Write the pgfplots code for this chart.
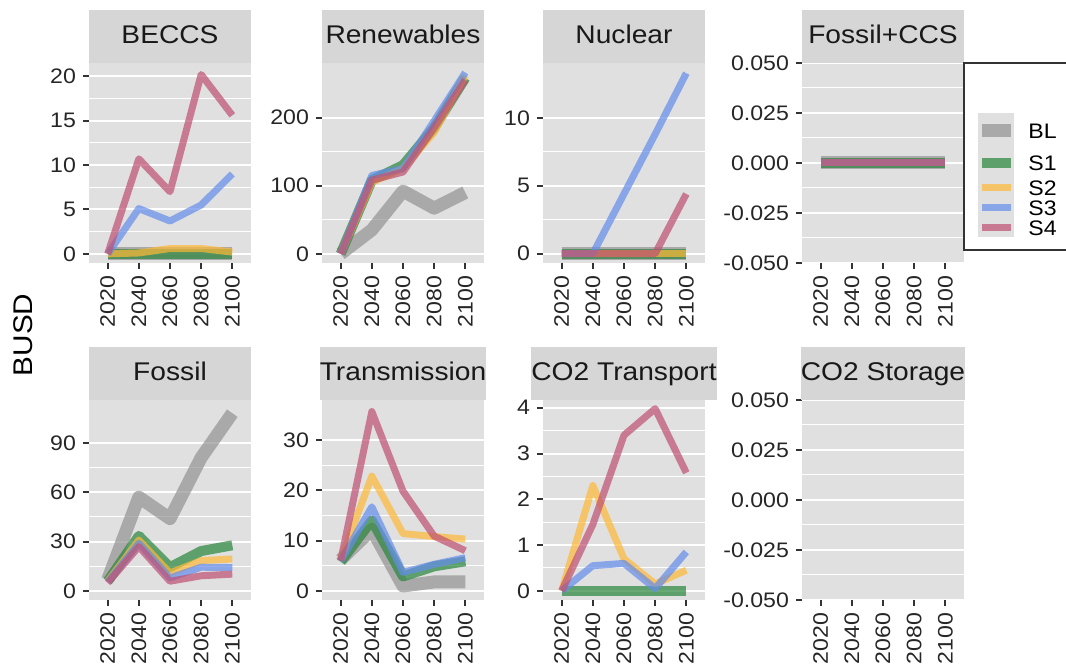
\documentclass[border=0pt]{standalone}
\usepackage{fontspec}
\setmainfont{Liberation Sans}[FakeStretch=1.1]
\usepackage{pgfplots}
\pgfplotsset{compat=1.18}
\definecolor{panelbg}{HTML}{E0E0E0}
\definecolor{stripbg}{HTML}{D6D6D6}
\definecolor{blcol}{RGB}{147,147,147}
\definecolor{s1col}{RGB}{40,133,60}
\definecolor{s2col}{RGB}{255,185,55}
\definecolor{s3col}{RGB}{100,140,235}
\definecolor{s4col}{RGB}{190,80,115}
\pgfplotsset{
  panel/.style={
    scale only axis, width=81pt, height=100pt, anchor=south west,
    xmin=-0.6, xmax=4.6,
    xtick={0,1,2,3,4}, xticklabels={2020,2040,2060,2080,2100},
    axis x line*=bottom, axis y line*=left,
    axis line style={draw=none,-},
    axis background/.style={fill=panelbg},
    tick align=outside,
    major tick length=3pt, minor tick length=0pt,
    every tick/.style={draw=black!80, line width=1pt},
    ymajorgrids, yminorgrids, minor y tick num=1,
    major grid style={white, line width=1pt},
    minor grid style={white, line width=0.5pt},
    scaled y ticks=false,
    /pgf/number format/assume math mode=true,
    ticklabel style={font=\fontsize{10.5}{12}\selectfont, text=black!85},
    xticklabel style={rotate=90, anchor=east},
    every axis title/.style={at={(0.5,1)}, anchor=south, fill=stripbg,
      minimum width=81pt, minimum height=26.5pt, inner sep=0pt, outer sep=0pt,
      text height=0.716em, text depth=0pt,
      font=\fontsize{12.8}{14}\selectfont, text=black!90},
  },
  BLs/.style={draw=blcol, line width=6.5pt, opacity=0.7, line join=round},
  S1s/.style={draw=s1col, line width=5pt, opacity=0.7, line join=round},
  S2s/.style={draw=s2col, line width=3.5pt, opacity=0.7, line join=round},
  S3s/.style={draw=s3col, line width=3.5pt, opacity=0.7, line join=round},
  S4s/.style={draw=s4col, line width=3.5pt, opacity=0.7, line join=round},
}
\begin{document}
\begin{tikzpicture}
\useasboundingbox (0,0) rectangle (533pt,334pt);
% ---------- BECCS
\begin{axis}[panel, at={(44.5pt,202.5pt)}, title={BECCS}, ymin=-1.03, ymax=21.5, ytick={0,5,10,15,20}]
\addplot[BLs] coordinates {(0,0)(1,0)(2,0)(3,0)(4,0)};
\addplot[S1s] coordinates {(0,0)(1,0)(2,0)(3,0)(4,0)};
\addplot[S2s] coordinates {(0,0)(1,0.1)(2,0.6)(3,0.6)(4,0.2)};
\addplot[S3s] coordinates {(0,0)(1,5.1)(2,3.7)(3,5.5)(4,9.0)};
\addplot[S4s] coordinates {(0,0)(1,10.7)(2,7.0)(3,20.2)(4,15.6)};
\end{axis}
% ---------- Renewables
\begin{axis}[panel, at={(161pt,202.5pt)}, title={Renewables}, ymin=-13.5, ymax=280, ytick={0,100,200}]
\addplot[BLs] coordinates {(0,0)(1,35)(2,92)(3,67)(4,90)};
\addplot[S1s] coordinates {(0,0)(1,108)(2,130)(3,185)(4,258)};
\addplot[S2s] coordinates {(0,0)(1,105)(2,125)(3,178)(4,262)};
\addplot[S3s] coordinates {(0,0)(1,115)(2,125)(3,195)(4,266)};
\addplot[S4s] coordinates {(0,0)(1,108)(2,120)(3,185)(4,255)};
\end{axis}
% ---------- Nuclear
\begin{axis}[panel, at={(271.5pt,202.5pt)}, title={Nuclear}, ymin=-0.69, ymax=14.05, ytick={0,5,10}]
\addplot[BLs] coordinates {(0,0)(1,0)(2,0)(3,0)(4,0)};
\addplot[S1s] coordinates {(0,0)(1,0)(2,0)(3,0)(4,0)};
\addplot[S2s] coordinates {(0,0)(1,0)(2,0)(3,0)(4,0)};
\addplot[S3s] coordinates {(0,0)(1,0)(2,4.4)(3,8.8)(4,13.3)};
\addplot[S4s] coordinates {(0,0)(1,0)(2,0)(3,0)(4,4.4)};
\end{axis}
% ---------- Fossil+CCS
\begin{axis}[panel, at={(401pt,202.5pt)}, title={Fossil+CCS}, ymin=-0.05, ymax=0.05,
  ytick={-0.05,-0.025,0,0.025,0.05}, yticklabels={-0.050,-0.025,0.000,0.025,0.050}]
\addplot[BLs] coordinates {(0,0)(1,0)(2,0)(3,0)(4,0)};
\addplot[S1s] coordinates {(0,0)(1,0)(2,0)(3,0)(4,0)};
\addplot[S2s] coordinates {(0,0)(1,0)(2,0)(3,0)(4,0)};
\addplot[S3s] coordinates {(0,0)(1,0)(2,0)(3,0)(4,0)};
\addplot[S4s] coordinates {(0,0)(1,0)(2,0)(3,0)(4,0)};
\end{axis}
% ---------- Fossil
\begin{axis}[panel, at={(44.5pt,34pt)}, title={Fossil}, ymin=-5.4, ymax=116, ytick={0,30,60,90}]
\addplot[BLs] coordinates {(0,7)(1,57)(2,44)(3,81)(4,108)};
\addplot[S1s] coordinates {(0,6)(1,33.5)(2,14.5)(3,24.3)(4,27.8)};
\addplot[S2s] coordinates {(0,6)(1,31)(2,11)(3,18.5)(4,19.5)};
\addplot[S3s] coordinates {(0,5.5)(1,29)(2,8)(3,14.5)(4,14.3)};
\addplot[S4s] coordinates {(0,5)(1,27)(2,6)(3,9.3)(4,10.3)};
\end{axis}
% ---------- Transmission
\begin{axis}[panel, at={(161pt,34pt)}, title={Transmission}, ymin=-1.78, ymax=37.9, ytick={0,10,20,30}]
\addplot[BLs] coordinates {(0,6.2)(1,12.2)(2,1.0)(3,1.8)(4,1.8)};
\addplot[S1s] coordinates {(0,5.8)(1,14)(2,2.9)(3,4.9)(4,5.9)};
\addplot[S2s] coordinates {(0,6.2)(1,22.8)(2,11.4)(3,10.8)(4,10.3)};
\addplot[S3s] coordinates {(0,6)(1,16.7)(2,3.7)(3,5.3)(4,6.6)};
\addplot[S4s] coordinates {(0,6)(1,35.6)(2,19.8)(3,10.9)(4,8.0)};
\end{axis}
% ---------- CO2 Transport
\begin{axis}[panel, at={(271.5pt,34pt)}, title={CO2 Transport}, ymin=-0.2, ymax=4.17, ytick={0,1,2,3,4}]
\addplot[S1s] coordinates {(0,0)(1,0)(2,0)(3,0)(4,0)};
\addplot[S2s] coordinates {(0,0)(1,2.3)(2,0.7)(3,0.15)(4,0.45)};
\addplot[S3s] coordinates {(0,0)(1,0.55)(2,0.6)(3,0.05)(4,0.85)};
\addplot[S4s] coordinates {(0,0)(1,1.45)(2,3.4)(3,3.98)(4,2.58)};
\end{axis}
% ---------- CO2 Storage
\begin{axis}[panel, at={(401pt,34pt)}, title={CO2 Storage}, ymin=-0.05, ymax=0.05,
  ytick={-0.05,-0.025,0,0.025,0.05}, yticklabels={-0.050,-0.025,0.000,0.025,0.050}]
\end{axis}
% ---------- y label
\node[rotate=90, font=\fontsize{13.5}{15}\selectfont, text=black] at (11.5pt,166.5pt) {BUSD};
% ---------- legend
\draw[black!80, line width=0.6pt, fill=white] (482pt,209pt) rectangle (545pt,302.5pt);
\fill[panelbg] (489pt,215.5pt) rectangle (507pt,277.5pt);
\draw[blcol, opacity=0.7, line width=6.5pt] (491pt,268.5pt) -- (505.5pt,268.5pt);
\draw[s1col, opacity=0.7, line width=5pt] (491pt,252.5pt) -- (505.5pt,252.5pt);
\draw[s2col, opacity=0.7, line width=3.5pt] (491pt,240pt) -- (505.5pt,240pt);
\draw[s3col, opacity=0.7, line width=3.5pt] (491pt,230pt) -- (505.5pt,230pt);
\draw[s4col, opacity=0.7, line width=3.5pt] (491pt,220pt) -- (505.5pt,220pt);
\begin{scope}[every node/.style={anchor=west, font=\fontsize{10.5}{12}\selectfont, inner sep=0pt}]
\node at (514pt,268.5pt) {BL};
\node at (514pt,252.5pt) {S1};
\node at (514pt,240pt) {S2};
\node at (514pt,230pt) {S3};
\node at (514pt,220pt) {S4};
\end{scope}
\end{tikzpicture}
\end{document}
